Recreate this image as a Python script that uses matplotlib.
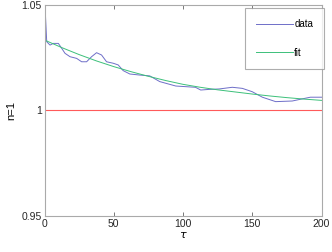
import numpy as np
import matplotlib.pyplot as plt

plt.rcParams['font.family'] = ['Liberation Sans', 'DejaVu Sans']

# data terukur
tau = [0.4, 1.6, 4, 6.3, 10, 12.4, 14.8, 18.4, 23.2, 26.8, 30.4, 34, 37.6, 41.2,
       44.8, 49.6, 53.2, 56.8, 61.6, 68.8, 76, 83.2, 87.6, 94.8, 109, 112.8,
       118.8, 126, 135.6, 142.8, 150, 157.3, 166.9, 178.9, 186, 192, 200]
nilai = [1.049, 1.0326, 1.031, 1.0318, 1.0318, 1.0295, 1.0271, 1.0255, 1.0247,
         1.0231, 1.0231, 1.0255, 1.0274, 1.0263, 1.0231, 1.0224, 1.0216, 1.0189,
         1.0173, 1.0168, 1.0164, 1.0137, 1.0129, 1.0116, 1.011, 1.0097, 1.01,
         1.0102, 1.011, 1.0105, 1.0089, 1.0063, 1.0042, 1.0045, 1.0055, 1.0063,
         1.0063]

# kurva fit
tauFit = [0, 12.5, 25, 37.5, 50, 62.5, 75, 87.5, 100, 112.5, 125, 137.5, 150,
          162.5, 175, 187.5, 200]
nilaiFit = [1.0334, 1.0298, 1.0265, 1.0235, 1.0208, 1.0184, 1.0162, 1.0142,
            1.0124, 1.0110, 1.0098, 1.0088, 1.0078, 1.0069, 1.0061, 1.0054,
            1.0048]

fig = plt.figure(figsize=(3.32, 2.52), dpi=100)
ax = fig.add_axes([44.5/332, 36/252, 277/332, 211/252])

ax.plot(tau, nilai, color='#6e6ec8', lw=0.7, label='data')
ax.plot(tauFit, nilaiFit, color='#3cc07a', lw=0.7, label='fit')
ax.axhline(1, color='#ff5a5a', lw=0.8)

ax.set_xlim(0, 200)
ax.set_ylim(0.95, 1.05)
ax.set_xticks([0, 50, 100, 150, 200])
ax.set_yticks([0.95, 1, 1.05])
ax.set_yticklabels(['0.95', '1', '1.05'])
ax.tick_params(direction='in', length=3, width=0.5, labelsize=7.5,
               colors='#444444', top=True, right=True, labelcolor='#262626', pad=2)
for s in ax.spines.values():
    s.set_color('#aaaaaa')
    s.set_linewidth(0.8)

ax.set_xlabel(r'$\tau$', fontsize=8, labelpad=1)
ax.set_ylabel('n=1', fontsize=8, labelpad=4)

leg = ax.legend(loc='upper right', fontsize=7, frameon=True, fancybox=False,
                handlelength=3.8, labelspacing=1.9, borderpad=1.15,
                handletextpad=0.1, borderaxespad=0,
                bbox_to_anchor=(1.01, 0.985))
leg.get_frame().set_edgecolor('#999999')
leg.get_frame().set_linewidth(0.8)

fig.savefig('out.png', dpi=100)
